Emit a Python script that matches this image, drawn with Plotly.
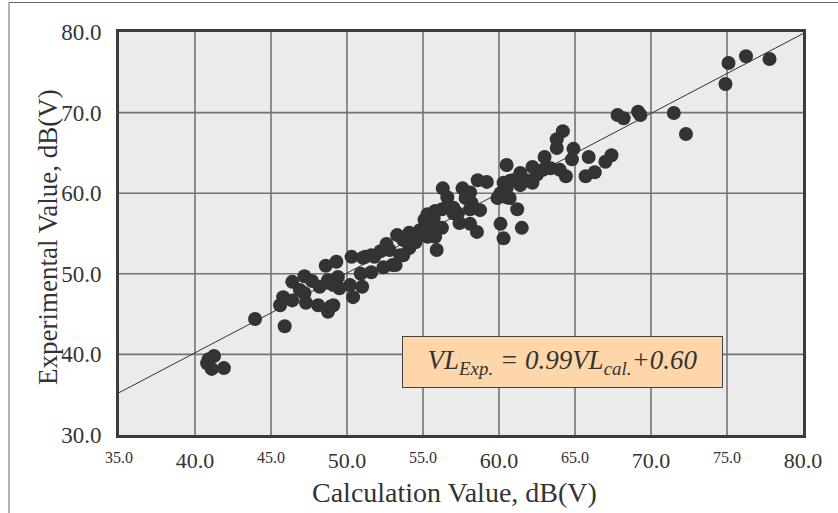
import plotly.graph_objects as go

calc_values = [
    40.8, 41.25, 41.1, 41.9, 40.9, 43.95, 45.9, 45.6, 45.8, 46.4,
    46.4, 47.2, 47.7, 47.2, 47.3, 48.1, 48.9, 48.75, 49.1, 48.6,
    49.3, 48.75, 49.1, 49.4, 50.2, 50.4, 51.0, 50.3, 51.05, 50.9,
    51.6, 52.4, 51.8, 52.2, 52.6, 52.8, 53.3, 53.7, 54.1, 53.2,
    53.7, 54.1, 54.5, 54.8, 55.3, 55.7, 55.3, 55.8, 56.25, 55.6,
    56.25, 55.8, 55.9, 56.3, 56.6, 57.6, 58.1, 57.8, 58.2, 57.0,
    57.4, 58.1, 58.55, 58.1, 58.75, 58.6, 59.2, 59.9, 60.5, 60.1,
    60.3, 61.2, 61.5, 60.3, 60.9, 61.4, 62.2, 62.5, 62.9, 60.5,
    62.2, 60.7, 60.5, 60.1, 60.7, 61.4, 61.8, 63.0, 63.4, 64.0,
    64.4, 65.9, 65.7, 66.3, 67.0, 67.4, 64.2, 63.8, 63.8, 64.9,
    64.8, 67.8, 68.2, 69.15, 69.3, 71.5, 72.3, 75.1, 76.25, 77.8,
    74.9, 57.3, 55.1, 54.8, 55.3, 51.6, 51.2, 48.2, 48.7, 49.3,
    49.5, 46.9, 53.0, 53.5, 54.3, 57.0,
]
exp_values = [
    38.9, 39.8, 38.2, 38.3, 39.4, 44.4, 43.5, 46.1, 47.1, 46.7,
    49.0, 49.7, 49.1, 47.6, 46.4, 46.1, 45.9, 45.3, 46.1, 51.0,
    51.5, 49.2, 48.6, 49.6, 48.6, 47.1, 48.4, 52.1, 52.0, 50.0,
    50.2, 50.8, 52.1, 52.8, 53.7, 52.95, 54.8, 54.2, 55.1, 51.1,
    52.3, 53.2, 53.9, 55.4, 56.05, 56.9, 57.4, 57.8, 58.0, 55.6,
    55.7, 54.6, 52.95, 60.6, 59.5, 60.6, 60.1, 59.4, 58.8, 57.5,
    56.3, 56.2, 55.2, 58.0, 57.9, 61.6, 61.4, 59.4, 59.5, 56.2,
    54.4, 58.0, 55.7, 61.3, 61.6, 61.0, 61.3, 62.3, 62.9, 63.5,
    63.25, 61.5, 60.6, 60.0, 59.4, 62.5, 61.6, 64.5, 63.1, 62.9,
    62.1, 64.5, 62.1, 62.6, 63.9, 64.7, 67.7, 66.7, 65.6, 65.5,
    64.2, 69.7, 69.3, 70.1, 69.7, 69.95, 67.35, 76.15, 77.0, 76.65,
    73.55, 57.5, 56.7, 54.8, 54.6, 52.3, 52.1, 48.4, 48.9, 48.6,
    48.2, 48.0, 51.1, 52.3, 54.2, 58.2,
]

# Regression line shown on the chart
fit_slope = 0.99
fit_intercept = 0.60
fit_x = [35.0, 80.0]
fit_y = [fit_slope * v + fit_intercept for v in fit_x]

# Axis ticks
x_major_ticks = [40, 50, 60, 70, 80]
x_major_text = ["40.0", "50.0", "60.0", "70.0", "80.0"]
x_minor_ticks = [35, 45, 55, 65, 75]
x_minor_text = ["35.0", "45.0", "55.0", "65.0", "75.0"]
y_ticks = [30, 40, 50, 60, 70, 80]
y_text = ["30.0", "40.0", "50.0", "60.0", "70.0", "80.0"]

x_title = "Calculation Value, dB(V)"
y_title = "Experimental Value, dB(V)"
equation_text = "<i>VL<sub>Exp.</sub> = 0.99VL<sub>cal.</sub>+0.60</i>"

FONT = "Liberation Serif"
TXT = "#333333"

W, H = 838, 513
L, R, T, B = 119, 35, 32, 78
PW, PH = W - L - R, H - T - B


def px(xpix):
    return (xpix - L) / PW


def py(ypix):
    return (H - B - ypix) / PH


fig = go.Figure()
fig.add_trace(go.Scatter(
    x=fit_x, y=fit_y, mode="lines",
    line=dict(color="#333333", width=1), hoverinfo="skip", showlegend=False,
))
fig.add_trace(go.Scatter(
    x=calc_values, y=exp_values, mode="markers",
    marker=dict(color="#333333", size=14, line=dict(width=0)),
    showlegend=False,
))
# invisible trace to anchor the secondary (minor-label) x axis
fig.add_trace(go.Scatter(x=[None], y=[None], xaxis="x2", showlegend=False,
                         hoverinfo="skip"))

fig.update_layout(
    width=W, height=H,
    margin=dict(l=L, r=R, t=T, b=B),
    paper_bgcolor="white",
    plot_bgcolor="#EBEBEB",
    font=dict(family=FONT, color=TXT),
    xaxis=dict(
        range=[35, 80], tickmode="array", tickvals=x_major_ticks, ticktext=x_major_text,
        tickfont=dict(family=FONT, size=22, color=TXT),
        showgrid=False, zeroline=False,
        showline=True, mirror=True, linecolor="#3c3c3c", linewidth=3,
        ticks="outside", ticklen=0, ticklabelstandoff=4,
    ),
    xaxis2=dict(
        range=[35, 80], overlaying="x", side="bottom", anchor="y",
        tickmode="array", tickvals=x_minor_ticks, ticktext=x_minor_text,
        tickfont=dict(family=FONT, size=16, color=TXT),
        showgrid=False, zeroline=False, showline=False,
        ticks="outside", ticklen=0, ticklabelstandoff=8,
    ),
    yaxis=dict(
        range=[30, 80], tickmode="array", tickvals=y_ticks, ticktext=y_text,
        tickfont=dict(family=FONT, size=23, color=TXT),
        showgrid=False, zeroline=False,
        showline=True, mirror=True, linecolor="#3c3c3c", linewidth=3,
        ticks="outside", ticklen=0, ticklabelstandoff=10,
    ),
)

# grid lines (vertical every 5, horizontal every 10)
shapes = []
for gx in [40, 45, 50, 55, 60, 65, 70, 75]:
    shapes.append(dict(type="line", xref="x", yref="paper", x0=gx, x1=gx, y0=0, y1=1,
                       line=dict(color="#737373", width=1.6), layer="below"))
for gy in [40, 50, 60, 70]:
    shapes.append(dict(type="line", xref="paper", yref="y", x0=0, x1=1, y0=gy, y1=gy,
                       line=dict(color="#737373", width=1.6), layer="below"))
# outer frame
shapes.append(dict(type="rect", xref="paper", yref="paper", x0=px(9), x1=1.2, y0=-0.4, y1=py(2.5),
                   line=dict(color="#666666", width=1), fillcolor="rgba(0,0,0,0)", layer="above"))
fig.update_layout(shapes=shapes)

# axis titles
fig.add_annotation(
    xref="paper", yref="paper", x=px(454), y=py(492), xanchor="center", yanchor="middle",
    showarrow=False, text=x_title, font=dict(family=FONT, size=28, color=TXT),
)
fig.add_annotation(
    xref="paper", yref="paper", x=px(48), y=py(237), xanchor="center", yanchor="middle",
    showarrow=False, text=y_title, textangle=-90, font=dict(family=FONT, size=27, color=TXT),
)

fig.add_annotation(
    xref="paper", yref="paper", x=px(562.5), y=py(362),
    xanchor="center", yanchor="middle", showarrow=False,
    text=equation_text, font=dict(family=FONT, size=27, color=TXT),
    bgcolor="#FFD6AA", bordercolor="#444444", borderwidth=1, borderpad=1,
    width=317, height=48, align="center",
)

fig.write_html("out.html")
